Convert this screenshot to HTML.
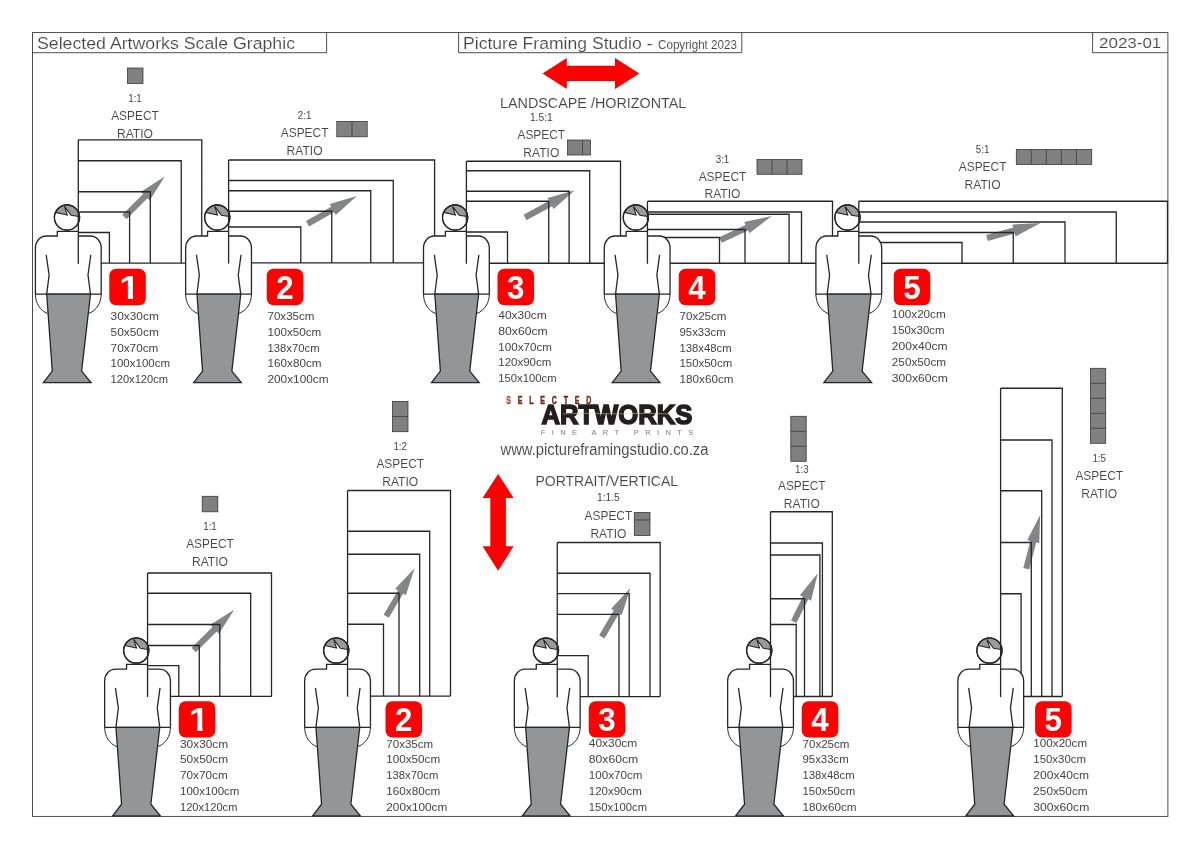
<!DOCTYPE html>
<html lang="en"><head><meta charset="utf-8"><title>Selected Artworks Scale Graphic</title>
<style>html,body{margin:0;padding:0;background:#fff}body{width:1200px;height:849px;overflow:hidden}svg{display:block;will-change:transform}text{font-family:"Liberation Sans",sans-serif;fill:#444444}.ln{fill:none;stroke:#262626;stroke-width:1.3;stroke-linejoin:miter;stroke-linecap:butt}.bd{fill:#fff;stroke:#262626;stroke-width:1.3}.lg{fill:#949597;stroke:#262626;stroke-width:1.3;stroke-linejoin:miter}.sq{fill:#808080;stroke:#3a3a3a;stroke-width:.8}.ar{fill:#848587}.bg{fill:#ff0000}.nm{font-weight:bold;fill:#fff;font-size:33.6px;text-anchor:middle;stroke:none}</style></head><body>
<svg width="1200" height="849" viewBox="0 0 1200 849">
<defs>
<g id="fig"><path d="M-9.7 13.8H11.3V18.5H23.4A10.8 11.8 0 0 1 34.2 30.3V76.7C34.2 85.5 29.5 93 21.9 95.9H-19.4C-27 93 -31.6 85.5 -31.6 76.7V30.3A10.8 11.8 0 0 1 -20.8 18.5H-9.7Z" fill="#fff"/><path class="ln" d="M11.3 13.8H-9.7V18.5H-20.8A10.8 11.8 0 0 0 -31.6 30.3V76.7M11.3 18.5H23.4A10.8 11.8 0 0 1 34.2 30.3V76.7"/><path d="M-31.6 76.7C-31.6 85.5 -27 93 -19.4 96.1M34.2 76.7C34.2 85.5 29.5 93 21.9 95.9" fill="none" stroke="#262626" stroke-width="1"/><path class="ln" d="M-31.6 76.7H34.2M-20.8 37.3L-17.9 57.5L-20.3 76.7M23.8 37.3L21 57.5L23.5 76.7"/><polygon class="lg" points="-20.3,76.7 23.5,76.7 14.6,153.6 24.1,165.2 -23.6,165.2 -14.7,153.6"/><circle class="bd" cx="0" cy="0" r="12.6"/><path d="M-11.5 -5.15L0.3 -2.5L-2.6 -11.2L4.1 -2.3L12.55 -0.9A12.6 12.6 0 0 0 -11.5 -5.15Z" fill="#9a9a9a" stroke="#262626" stroke-width="1.1" stroke-linejoin="miter"/><circle cx="0" cy="0" r="12.6" fill="none" stroke="#262626" stroke-width="1.15"/></g>
<linearGradient id="sel" x1="0" x2="1" y1="0" y2="0"><stop offset="0" stop-color="#b85a36"/><stop offset=".12" stop-color="#7a2c18"/><stop offset=".6" stop-color="#5e2416"/><stop offset="1" stop-color="#7d3420"/></linearGradient>
<clipPath id="c1"><path d="M0 -30H12.5V2H7.75V-4.4H0Z"/></clipPath>
</defs>
<rect width="1200" height="849" fill="#fff"/>
<g fill="none" stroke="#3a3a3a" stroke-width=".9">
<rect x="32.5" y="32.6" width="1135.4" height="783.8"/>
<path d="M32.5 52.7H326.6V32.6M458.6 32.6V52.7H741.8V32.6M1092.6 32.6V52.7H1167.9"/>
</g>
<text x="37" y="49.4" font-size="17.4" textLength="258" lengthAdjust="spacingAndGlyphs" fill="#303030" stroke="#fff" stroke-width="0.17">Selected Artworks Scale Graphic</text>
<text x="463" y="49.4" font-size="17.4" textLength="189.5" lengthAdjust="spacingAndGlyphs" fill="#303030" stroke="#fff" stroke-width="0.17">Picture Framing Studio -</text>
<text x="658" y="49.4" font-size="12.8" textLength="79" lengthAdjust="spacingAndGlyphs" fill="#303030" stroke="#fff" stroke-width="0.08">Copyright 2023</text>
<text x="1099" y="48.2" font-size="15.2" textLength="62.3" lengthAdjust="spacingAndGlyphs" fill="#303030" stroke="#fff" stroke-width="0.15">2023-01</text>
<g fill="#ff0000">
<polygon points="542.5,73.4 566.8,57.9 566.8,65.8 615,65.8 615,57.9 639.3,73.4 615,89 615,81.1 566.8,81.1 566.8,89"/>
<polygon points="498.1,473.9 513.6,497.9 505.9,497.9 505.9,546.2 513.6,546.2 498.1,570.7 482.6,546.2 490.3,546.2 490.3,497.9 482.6,497.9"/>
</g>
<text x="500" y="108" font-size="14" textLength="186.3" lengthAdjust="spacingAndGlyphs" fill="#303030" stroke="#fff" stroke-width="0.08">LANDSCAPE /HORIZONTAL</text>
<text x="535.5" y="485.7" font-size="14" textLength="142.5" lengthAdjust="spacingAndGlyphs" fill="#303030" stroke="#fff" stroke-width="0.08">PORTRAIT/VERTICAL</text>
<text transform="translate(506.2 404.3) scale(.68 1)" font-size="10.4" font-weight="bold" textLength="125.4" lengthAdjust="spacing" style="fill:url(#sel);stroke:url(#sel);stroke-width:.45">SELECTED</text>
<text x="541.4" y="423.9" font-size="28.2" font-weight="bold" textLength="151" lengthAdjust="spacingAndGlyphs" style="fill:#231f20;stroke:#231f20;stroke-width:1.6">ARTWORKS</text>
<text x="540.8" y="434.9" font-size="7.5" textLength="152.4" lengthAdjust="spacing" style="fill:#7c7c7c;stroke:none">FINE ART PRINTS</text>
<text x="500.5" y="455" font-size="15.6" textLength="208" lengthAdjust="spacingAndGlyphs" fill="#303030" stroke="#fff" stroke-width="0.08">www.pictureframingstudio.co.za</text>
<path d="M563 413.9L590 413.2L618 413.9L648 413.3L671 414" fill="none" stroke="#d9c99a" stroke-width=".7" opacity=".75"/>
<g class="ar">
<polygon points="126.56,219.16 147.46,198.25 149.69,200.48 164.82,176.58 140.92,191.71 143.15,193.94 122.24,214.84"/>
<polygon points="309,226.41 334.23,212.17 335.78,214.92 356.77,195.96 329.69,204.12 331.24,206.86 306,221.09"/>
<polygon points="526.47,220.17 552.04,206.15 553.55,208.92 574.78,190.21 547.59,198.04 549.11,200.81 523.53,214.83"/>
<polygon points="721.79,242.76 748.09,230.46 749.42,233.31 771.79,216 744.17,222.08 745.5,224.93 719.21,237.24"/>
<polygon points="987.82,240.94 1014.81,233.43 1015.65,236.46 1040.58,223.09 1012.33,224.52 1013.17,227.55 986.18,235.06"/>
<polygon points="195.85,652.16 216.71,631.41 218.93,633.64 234.13,609.78 210.19,624.85 212.41,627.08 191.55,647.84"/>
<polygon points="388.88,617.8 403.17,593.56 405.88,595.16 414.55,568.23 395.2,588.86 397.91,590.46 383.62,614.7"/>
<polygon points="604.43,638.44 619.08,613.44 621.8,615.03 630.4,588.08 611.1,608.76 613.82,610.35 599.17,635.36"/>
<polygon points="796.48,623.1 808.26,599.3 811.08,600.7 817.77,573.21 799.97,595.2 802.79,596.6 791.02,620.4"/>
<polygon points="1029.2,569.51 1036.2,542.41 1039.25,543.19 1040.15,514.92 1027.25,540.09 1030.3,540.88 1023.3,567.99"/>
</g>
<path class="ln" d="M78.3 139.9H201.75V263.15M78.3 160.75H181.25V263.15M78.3 191.75H150.3V263.15M78.3 212H129.6V263.15M78.3 232.5H109.4V263.15M228.6 160H434.6V262.8M228.6 180.5H393.25V262.8M228.6 190.75H370.75V262.8M228.6 211.25H331.75V262.8M228.6 227H300.8V262.8M466.4 161.25H620.5V263.25M466.4 170.75H589.7V263.25M466.4 191.25H569.1V263.25M466.4 201.25H548.75V263.25M466.4 232H507.5V263.25M647.45 201.25H832.5V263.25M647.45 212H801.5V263.25M647.45 214.25H789.1V263.25M647.45 229.5H745V263.25M647.45 237.5H719.5V263.25M858.8 201.25H1167.5V263.25M858.8 212H1116.25V263.25M858.8 222H1065V263.25M858.8 232.5H1013.25V263.25M858.8 242.5H962V263.25M147.55 573H271.5V696.45M147.55 593.25H250.7V696.45M147.55 624.5H219.8V696.45M147.55 645.5H199.3V696.45M147.55 665.7H178.8V696.45M347.55 490.5H450.5V696.05M347.55 531.25H429.7V696.05M347.55 554.25H419.7V696.05M347.55 593.25H399V696.05M347.55 624.25H383.5V696.05M557.25 542.5H660.2V696.55M557.25 573.25H650V696.55M557.25 593.6H629.2V696.55M557.25 614.4H619V696.55M557.25 655.6H588.2V696.55M770.5 511.75H832.3V696.5M770.5 543H822.4V696.5M770.5 555H819.9V696.5M770.5 598.75H804.5V696.5M770.5 624.5H796.2V696.5M1000.6 388.25H1062.3V696.5M1000.6 440H1052V696.5M1000.6 490.75H1041.7V696.5M1000.6 542.5H1031.3V696.5M1000.6 593.75H1021.1V696.5M78.3 263.15H228.6M228.6 262.8H466.4M466.4 263.25H647.45M647.45 263.25H858.8M858.8 263.25H1167.6M147.55 696.45H271.5M347.55 696.05H450.5M557.25 696.55H660.2M770.5 696.5H832.3M1000.6 696.5H1062.3"/>
<use href="#fig" x="67" y="217.5"/>
<use href="#fig" x="217.25" y="217.5"/>
<use href="#fig" x="455.1" y="217.5"/>
<use href="#fig" x="635.85" y="217.5"/>
<use href="#fig" x="847.5" y="217.5"/>
<use href="#fig" x="136.25" y="650.6"/>
<use href="#fig" x="336.25" y="650.6"/>
<use href="#fig" x="545.95" y="650.6"/>
<use href="#fig" x="759.25" y="650.6"/>
<use href="#fig" x="989.45" y="650.6"/>
<path class="ln" d="M78.3 139.9V263.75M228.6 160V263.4M466.4 161.25V263.85M647.45 201.25V263.85M858.8 201.25V263.85M147.55 573V697.05M347.55 490.5V696.65M557.25 542.5V697.15M770.5 511.75V697.1M1000.6 388.25V697.1"/>
<rect class="bg" x="109.3" y="268.75" width="36.5" height="36.4" rx="6.8"/>
<text class="nm" style="text-anchor:start" clip-path="url(#c1)" transform="translate(119.3 298.95) scale(1.1 1)">1</text>
<rect class="bg" x="266.75" y="268.75" width="36.5" height="36.4" rx="6.8"/>
<text class="nm" transform="translate(284.95 298.95) scale(.93 1)">2</text>
<rect class="bg" x="497.5" y="268.75" width="36.5" height="36.4" rx="6.8"/>
<text class="nm" transform="translate(515.7 298.95) scale(.93 1)">3</text>
<rect class="bg" x="678.75" y="268.75" width="36.5" height="36.4" rx="6.8"/>
<text class="nm" transform="translate(696.95 298.95) scale(.93 1)">4</text>
<rect class="bg" x="893.75" y="268.75" width="36.5" height="36.4" rx="6.8"/>
<text class="nm" transform="translate(911.95 298.95) scale(.93 1)">5</text>
<rect class="bg" x="178.75" y="701.2" width="36.5" height="36.4" rx="6.8"/>
<text class="nm" style="text-anchor:start" clip-path="url(#c1)" transform="translate(188.75 731.4) scale(1.1 1)">1</text>
<rect class="bg" x="385.5" y="701.2" width="36.5" height="36.4" rx="6.8"/>
<text class="nm" transform="translate(403.7 731.4) scale(.93 1)">2</text>
<rect class="bg" x="588.75" y="701.2" width="36.5" height="36.4" rx="6.8"/>
<text class="nm" transform="translate(606.95 731.4) scale(.93 1)">3</text>
<rect class="bg" x="801.75" y="701.2" width="36.5" height="36.4" rx="6.8"/>
<text class="nm" transform="translate(819.95 731.4) scale(.93 1)">4</text>
<rect class="bg" x="1035.1" y="701.2" width="36.5" height="36.4" rx="6.8"/>
<text class="nm" transform="translate(1053.3 731.4) scale(.93 1)">5</text>
<text x="110.6" y="320.2" font-size="11.2" textLength="48.2" lengthAdjust="spacingAndGlyphs">30x30cm</text>
<text x="110.6" y="335.8" font-size="11.2" textLength="48.2" lengthAdjust="spacingAndGlyphs">50x50cm</text>
<text x="110.6" y="351.7" font-size="11.2" textLength="47.8" lengthAdjust="spacingAndGlyphs">70x70cm</text>
<text x="110.6" y="367.3" font-size="11.2" textLength="59.4" lengthAdjust="spacingAndGlyphs">100x100cm</text>
<text x="110.6" y="383.2" font-size="11.2" textLength="57.4" lengthAdjust="spacingAndGlyphs">120x120cm</text>
<text x="267.5" y="320.2" font-size="11.2" textLength="46.9" lengthAdjust="spacingAndGlyphs">70x35cm</text>
<text x="267.5" y="335.8" font-size="11.2" textLength="53.8" lengthAdjust="spacingAndGlyphs">100x50cm</text>
<text x="267.5" y="351.7" font-size="11.2" textLength="52.05" lengthAdjust="spacingAndGlyphs">138x70cm</text>
<text x="267.5" y="367.3" font-size="11.2" textLength="54" lengthAdjust="spacingAndGlyphs">160x80cm</text>
<text x="267.5" y="383.2" font-size="11.2" textLength="61" lengthAdjust="spacingAndGlyphs">200x100cm</text>
<text x="498.3" y="319" font-size="11.2" textLength="48.5" lengthAdjust="spacingAndGlyphs">40x30cm</text>
<text x="498.3" y="334.7" font-size="11.2" textLength="49.5" lengthAdjust="spacingAndGlyphs">80x60cm</text>
<text x="498.3" y="350.7" font-size="11.2" textLength="53.6" lengthAdjust="spacingAndGlyphs">100x70cm</text>
<text x="498.3" y="366" font-size="11.2" textLength="53.05" lengthAdjust="spacingAndGlyphs">120x90cm</text>
<text x="498.3" y="382" font-size="11.2" textLength="58.3" lengthAdjust="spacingAndGlyphs">150x100cm</text>
<text x="679.5" y="320.2" font-size="11.2" textLength="47" lengthAdjust="spacingAndGlyphs">70x25cm</text>
<text x="679.5" y="335.8" font-size="11.2" textLength="46.25" lengthAdjust="spacingAndGlyphs">95x33cm</text>
<text x="679.5" y="351.7" font-size="11.2" textLength="52.1" lengthAdjust="spacingAndGlyphs">138x48cm</text>
<text x="679.5" y="367.3" font-size="11.2" textLength="52.7" lengthAdjust="spacingAndGlyphs">150x50cm</text>
<text x="679.5" y="383.2" font-size="11.2" textLength="54" lengthAdjust="spacingAndGlyphs">180x60cm</text>
<text x="891.8" y="318.3" font-size="11.2" textLength="53.9" lengthAdjust="spacingAndGlyphs">100x20cm</text>
<text x="891.8" y="334.2" font-size="11.2" textLength="52.7" lengthAdjust="spacingAndGlyphs">150x30cm</text>
<text x="891.8" y="350" font-size="11.2" textLength="55.7" lengthAdjust="spacingAndGlyphs">200x40cm</text>
<text x="891.8" y="365.8" font-size="11.2" textLength="54.3" lengthAdjust="spacingAndGlyphs">250x50cm</text>
<text x="891.8" y="382" font-size="11.2" textLength="55.95" lengthAdjust="spacingAndGlyphs">300x60cm</text>
<text x="180" y="748" font-size="11.2" textLength="48.2" lengthAdjust="spacingAndGlyphs">30x30cm</text>
<text x="180" y="763.3" font-size="11.2" textLength="48.2" lengthAdjust="spacingAndGlyphs">50x50cm</text>
<text x="180" y="779.3" font-size="11.2" textLength="47.8" lengthAdjust="spacingAndGlyphs">70x70cm</text>
<text x="180" y="795.3" font-size="11.2" textLength="59.4" lengthAdjust="spacingAndGlyphs">100x100cm</text>
<text x="180" y="811.3" font-size="11.2" textLength="57.4" lengthAdjust="spacingAndGlyphs">120x120cm</text>
<text x="386.3" y="748" font-size="11.2" textLength="46.9" lengthAdjust="spacingAndGlyphs">70x35cm</text>
<text x="386.3" y="763.3" font-size="11.2" textLength="53.8" lengthAdjust="spacingAndGlyphs">100x50cm</text>
<text x="386.3" y="779.3" font-size="11.2" textLength="52.05" lengthAdjust="spacingAndGlyphs">138x70cm</text>
<text x="386.3" y="795.3" font-size="11.2" textLength="54" lengthAdjust="spacingAndGlyphs">160x80cm</text>
<text x="386.3" y="811.3" font-size="11.2" textLength="61" lengthAdjust="spacingAndGlyphs">200x100cm</text>
<text x="588.8" y="747" font-size="11.2" textLength="48.5" lengthAdjust="spacingAndGlyphs">40x30cm</text>
<text x="588.8" y="763" font-size="11.2" textLength="49.5" lengthAdjust="spacingAndGlyphs">80x60cm</text>
<text x="588.8" y="779" font-size="11.2" textLength="53.6" lengthAdjust="spacingAndGlyphs">100x70cm</text>
<text x="588.8" y="794.7" font-size="11.2" textLength="53.05" lengthAdjust="spacingAndGlyphs">120x90cm</text>
<text x="588.8" y="810.7" font-size="11.2" textLength="58.3" lengthAdjust="spacingAndGlyphs">150x100cm</text>
<text x="802.5" y="748" font-size="11.2" textLength="47" lengthAdjust="spacingAndGlyphs">70x25cm</text>
<text x="802.5" y="763.3" font-size="11.2" textLength="46.25" lengthAdjust="spacingAndGlyphs">95x33cm</text>
<text x="802.5" y="779.3" font-size="11.2" textLength="52.1" lengthAdjust="spacingAndGlyphs">138x48cm</text>
<text x="802.5" y="795.3" font-size="11.2" textLength="52.7" lengthAdjust="spacingAndGlyphs">150x50cm</text>
<text x="802.5" y="811.3" font-size="11.2" textLength="54" lengthAdjust="spacingAndGlyphs">180x60cm</text>
<text x="1033.3" y="747" font-size="11.2" textLength="53.9" lengthAdjust="spacingAndGlyphs">100x20cm</text>
<text x="1033.3" y="763" font-size="11.2" textLength="52.7" lengthAdjust="spacingAndGlyphs">150x30cm</text>
<text x="1033.3" y="779" font-size="11.2" textLength="55.7" lengthAdjust="spacingAndGlyphs">200x40cm</text>
<text x="1033.3" y="794.7" font-size="11.2" textLength="54.3" lengthAdjust="spacingAndGlyphs">250x50cm</text>
<text x="1033.3" y="810.7" font-size="11.2" textLength="55.95" lengthAdjust="spacingAndGlyphs">300x60cm</text>
<text x="135" y="102.1" font-size="10.2" text-anchor="middle" textLength="13.6" lengthAdjust="spacingAndGlyphs">1:1</text>
<text x="135" y="120" font-size="12.4" text-anchor="middle" textLength="47.6" lengthAdjust="spacingAndGlyphs" fill="#303030" stroke="#fff" stroke-width="0.08">ASPECT</text>
<text x="135" y="137.6" font-size="12.4" text-anchor="middle" textLength="36" lengthAdjust="spacingAndGlyphs" fill="#303030" stroke="#fff" stroke-width="0.08">RATIO</text>
<text x="304.6" y="118.5" font-size="10.2" text-anchor="middle" textLength="13.6" lengthAdjust="spacingAndGlyphs">2:1</text>
<text x="304.6" y="136.9" font-size="12.4" text-anchor="middle" textLength="47.6" lengthAdjust="spacingAndGlyphs" fill="#303030" stroke="#fff" stroke-width="0.08">ASPECT</text>
<text x="304.6" y="155" font-size="12.4" text-anchor="middle" textLength="36" lengthAdjust="spacingAndGlyphs" fill="#303030" stroke="#fff" stroke-width="0.08">RATIO</text>
<text x="541.3" y="120.6" font-size="10.2" text-anchor="middle" textLength="22.8" lengthAdjust="spacingAndGlyphs">1.5:1</text>
<text x="541.3" y="138.8" font-size="12.4" text-anchor="middle" textLength="47.6" lengthAdjust="spacingAndGlyphs" fill="#303030" stroke="#fff" stroke-width="0.08">ASPECT</text>
<text x="541.3" y="157" font-size="12.4" text-anchor="middle" textLength="36" lengthAdjust="spacingAndGlyphs" fill="#303030" stroke="#fff" stroke-width="0.08">RATIO</text>
<text x="722.5" y="163.4" font-size="10.2" text-anchor="middle" textLength="13.6" lengthAdjust="spacingAndGlyphs">3:1</text>
<text x="722.5" y="180.5" font-size="12.4" text-anchor="middle" textLength="47.6" lengthAdjust="spacingAndGlyphs" fill="#303030" stroke="#fff" stroke-width="0.08">ASPECT</text>
<text x="722.5" y="198" font-size="12.4" text-anchor="middle" textLength="36" lengthAdjust="spacingAndGlyphs" fill="#303030" stroke="#fff" stroke-width="0.08">RATIO</text>
<text x="982.6" y="153.4" font-size="10.2" text-anchor="middle" textLength="13.6" lengthAdjust="spacingAndGlyphs">5:1</text>
<text x="982.6" y="170.8" font-size="12.4" text-anchor="middle" textLength="47.6" lengthAdjust="spacingAndGlyphs" fill="#303030" stroke="#fff" stroke-width="0.08">ASPECT</text>
<text x="982.6" y="188.7" font-size="12.4" text-anchor="middle" textLength="36" lengthAdjust="spacingAndGlyphs" fill="#303030" stroke="#fff" stroke-width="0.08">RATIO</text>
<text x="210" y="529.6" font-size="10.2" text-anchor="middle" textLength="13.6" lengthAdjust="spacingAndGlyphs">1:1</text>
<text x="210" y="548" font-size="12.4" text-anchor="middle" textLength="47.6" lengthAdjust="spacingAndGlyphs" fill="#303030" stroke="#fff" stroke-width="0.08">ASPECT</text>
<text x="210" y="566.2" font-size="12.4" text-anchor="middle" textLength="36" lengthAdjust="spacingAndGlyphs" fill="#303030" stroke="#fff" stroke-width="0.08">RATIO</text>
<text x="400.2" y="449.5" font-size="10.2" text-anchor="middle" textLength="13.6" lengthAdjust="spacingAndGlyphs">1:2</text>
<text x="400.2" y="467.6" font-size="12.4" text-anchor="middle" textLength="47.6" lengthAdjust="spacingAndGlyphs" fill="#303030" stroke="#fff" stroke-width="0.08">ASPECT</text>
<text x="400.2" y="485.6" font-size="12.4" text-anchor="middle" textLength="36" lengthAdjust="spacingAndGlyphs" fill="#303030" stroke="#fff" stroke-width="0.08">RATIO</text>
<text x="608.4" y="501.4" font-size="10.2" text-anchor="middle" textLength="22.8" lengthAdjust="spacingAndGlyphs">1:1.5</text>
<text x="608.4" y="519.5" font-size="12.4" text-anchor="middle" textLength="47.6" lengthAdjust="spacingAndGlyphs" fill="#303030" stroke="#fff" stroke-width="0.08">ASPECT</text>
<text x="608.4" y="537.5" font-size="12.4" text-anchor="middle" textLength="36" lengthAdjust="spacingAndGlyphs" fill="#303030" stroke="#fff" stroke-width="0.08">RATIO</text>
<text x="801.8" y="472.6" font-size="10.2" text-anchor="middle" textLength="13.6" lengthAdjust="spacingAndGlyphs">1:3</text>
<text x="801.8" y="490" font-size="12.4" text-anchor="middle" textLength="47.6" lengthAdjust="spacingAndGlyphs" fill="#303030" stroke="#fff" stroke-width="0.08">ASPECT</text>
<text x="801.8" y="508" font-size="12.4" text-anchor="middle" textLength="36" lengthAdjust="spacingAndGlyphs" fill="#303030" stroke="#fff" stroke-width="0.08">RATIO</text>
<text x="1099.2" y="462.1" font-size="10.2" text-anchor="middle" textLength="13.6" lengthAdjust="spacingAndGlyphs">1:5</text>
<text x="1099.2" y="479.5" font-size="12.4" text-anchor="middle" textLength="47.6" lengthAdjust="spacingAndGlyphs" fill="#303030" stroke="#fff" stroke-width="0.08">ASPECT</text>
<text x="1099.2" y="497.5" font-size="12.4" text-anchor="middle" textLength="36" lengthAdjust="spacingAndGlyphs" fill="#303030" stroke="#fff" stroke-width="0.08">RATIO</text>
<rect class="sq" x="127.5" y="68" width="15.5" height="15.5"/>
<rect class="sq" x="336.8" y="121.5" width="30.4" height="15.3"/>
<path d="M352 121.5V136.8" fill="none" stroke="#3a3a3a" stroke-width=".8"/>
<rect class="sq" x="567.5" y="140" width="23" height="15"/>
<path d="M582.5 140V155" fill="none" stroke="#3a3a3a" stroke-width=".8"/>
<rect class="sq" x="757" y="159.5" width="45" height="14.8"/>
<path d="M772 159.5V174.3M787 159.5V174.3" fill="none" stroke="#3a3a3a" stroke-width=".8"/>
<rect class="sq" x="1016.3" y="149.5" width="75.4" height="15"/>
<path d="M1031.3 149.5V164.5M1046.3 149.5V164.5M1061.3 149.5V164.5M1076.4 149.5V164.5" fill="none" stroke="#3a3a3a" stroke-width=".8"/>
<rect class="sq" x="202.2" y="496.3" width="15.6" height="15.5"/>
<rect class="sq" x="392.5" y="401.4" width="15.5" height="30.3"/>
<path d="M392.5 416.6H408" fill="none" stroke="#3a3a3a" stroke-width=".8"/>
<rect class="sq" x="634.3" y="512.5" width="15.7" height="23"/>
<path d="M634.3 520H650" fill="none" stroke="#3a3a3a" stroke-width=".8"/>
<rect class="sq" x="790.8" y="416.3" width="15.4" height="45"/>
<path d="M790.8 431.3H806.2M790.8 446.3H806.2" fill="none" stroke="#3a3a3a" stroke-width=".8"/>
<rect class="sq" x="1090.5" y="368.3" width="15.2" height="75"/>
<path d="M1090.5 383.3H1105.7M1090.5 398.3H1105.7M1090.5 413.3H1105.7M1090.5 428.3H1105.7" fill="none" stroke="#3a3a3a" stroke-width=".8"/>
</svg></body></html>
